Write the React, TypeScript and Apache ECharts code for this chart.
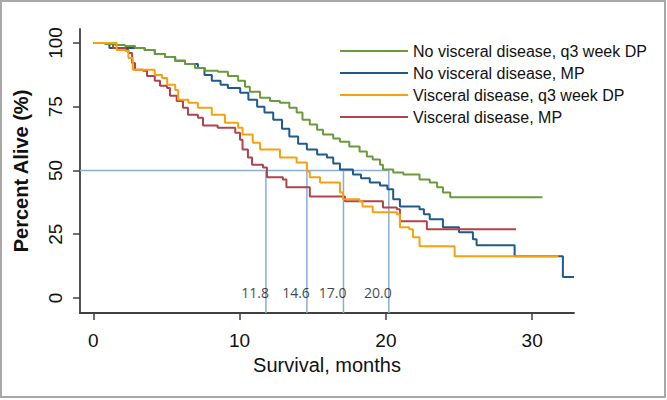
import React, { useEffect, useRef } from "react";
import * as echarts from "echarts";

// Kaplan-Meier curves: time (months) and percent alive
const greenName = "No visceral disease, q3 week DP";
const greenT = [0, 0.8, 1.48, 2.17, 2.85, 3.53, 4.22, 4.9, 5.58, 6.27, 6.95, 7.64, 8.52, 9.2, 9.9, 10.37, 10.7, 11.4, 12.08, 12.76, 13.4, 13.9, 14.3, 14.8, 15.3, 15.7, 16.4, 16.86, 17.5, 18.2, 18.7, 19.1, 19.6, 19.8, 20.5, 21.2, 22.3, 23.0, 23.5, 23.9, 24.4, 30.7];
const greenS = [100, 99.6, 99.2, 98.8, 98.0, 97.3, 95.7, 94.5, 93.0, 91.8, 90.2, 89.1, 88.7, 87.1, 85.2, 82.8, 80.9, 78.5, 77.3, 76.6, 74.6, 72.7, 69.9, 68.0, 66.0, 64.1, 62.5, 61.3, 59.4, 57.4, 55.5, 54.3, 52.3, 50.4, 49.2, 48.4, 46.5, 45.3, 43.4, 41.4, 39.5, 39.5];

const blueName = "No visceral disease, MP";
const blueT = [0, 1.1, 2.85, 3.5, 4.2, 4.9, 5.6, 6.27, 7.15, 7.6, 8.1, 8.7, 9.2, 10.04, 10.6, 11.2, 11.7, 12.3, 12.9, 13.4, 14.0, 14.6, 15.3, 15.97, 16.4, 16.86, 17.75, 18.3, 18.9, 19.6, 20.1, 20.5, 20.96, 22.3, 22.6, 23.0, 23.9, 25.0, 25.95, 26.2, 28.8, 32.1, 32.86];
const blueS = [100, 98.0, 98.0, 97.3, 95.7, 94.5, 93.0, 91.8, 90.2, 87.5, 85.2, 83.6, 82.4, 80.5, 77.7, 75.0, 72.7, 69.9, 66.4, 63.3, 60.5, 58.2, 56.3, 55.1, 52.7, 50.4, 48.4, 47.0, 45.3, 44.1, 42.6, 38.7, 35.9, 34.8, 32.8, 30.9, 27.7, 25.8, 23.0, 20.7, 16.4, 8.2, 8.2];

const orangeName = "Visceral disease, q3 week DP";
const orangeT = [0, 1.35, 1.6, 2.2, 2.4, 2.7, 4.0, 4.2, 4.7, 5.05, 5.6, 5.8, 6.5, 7.15, 8.1, 9.0, 9.9, 10.2, 10.9, 11.4, 12.76, 13.9, 14.6, 14.8, 15.5, 16.86, 17.07, 18.2, 18.4, 19.1, 20.75, 20.96, 21.6, 21.85, 22.3, 24.7, 31.8];
const orangeS = [100, 100, 97.3, 96.9, 94.1, 89.5, 89.5, 87.5, 86.3, 83.6, 81.6, 77.7, 76.6, 74.6, 71.9, 68.75, 66.8, 64.1, 60.9, 58.2, 55.1, 53.1, 49.6, 47.3, 45.3, 41.4, 38.7, 37.9, 35.9, 33.6, 32.8, 27.7, 27.0, 23.8, 20.3, 16.4, 16.4];

const redName = "Visceral disease, MP";
const redT = [0, 1.35, 2.2, 2.4, 2.65, 2.85, 3.4, 3.67, 4.2, 4.56, 5.04, 5.24, 5.7, 6.13, 6.47, 7.15, 7.5, 8.5, 9.7, 10.03, 10.2, 10.57, 10.85, 11.6, 11.87, 12.96, 13.2, 14.8, 17.2, 19.8, 20.75, 20.96, 22.8, 28.9];
const redS = [100, 98.0, 97.3, 96.1, 92.2, 89.5, 89.1, 87.1, 85.2, 83.2, 82.4, 79.3, 77.3, 74.6, 71.9, 70.7, 67.6, 66.8, 64.8, 62.1, 58.2, 55.1, 52.3, 51.2, 47.3, 46.5, 43.4, 39.8, 37.9, 35.5, 34.8, 30.1, 27.0, 27.0];

// Median survival markers
const medianX = [11.8, 14.6, 17.1, 20.2];
const medianText = ["11.8", "14.6", "17.0", "20.0"];
const medianLevel = 50;
const medianLabelY = 2;

const xTicks = [0, 10, 20, 30];
const yTicks = [0, 25, 50, 75, 100];
const xMin = -0.91;
const xMax = 32.86;
const yMin = -5.9;
const yMax = 105.5;

const pairs = (t: number[], s: number[]) => t.map((v, i) => [v, s[i]]);

export default function App() {
  const ref = useRef<HTMLDivElement>(null);
  useEffect(() => {
    if (!ref.current) return;
    const chart = echarts.init(ref.current, undefined, { renderer: "svg" });
    const font = "Liberation Sans, Arial, sans-serif";
    const medColor = "#8badd6";
    const kmSeries = (name: string, t: number[], s: number[], color: string, z: number) => ({
      name,
      type: "line",
      step: "end",
      data: pairs(t, s),
      showSymbol: false,
      symbol: "none",
      lineStyle: { color, width: 2 },
      itemStyle: { color },
      silent: true,
      z,
    });
    const medianLines: any[] = medianX.map((x) => ({
      type: "line",
      data: [
        [x, medianLevel],
        [x, yMin],
      ],
      symbol: "none",
      lineStyle: { color: medColor, width: 1.5 },
      silent: true,
      z: 1,
    }));
    medianLines.push({
      type: "line",
      data: [
        [xMin, medianLevel],
        [medianX[medianX.length - 1], medianLevel],
      ],
      symbol: "none",
      lineStyle: { color: medColor, width: 1.5 },
      silent: true,
      z: 1,
    });
    chart.setOption({
      animation: false,
      backgroundColor: "#ffffff",
      grid: { left: 80, top: 29, width: 494, height: 284, outerBoundsMode: "none", containLabel: false },
      legend: {
        data: [greenName, blueName, orangeName, redName],
        orient: "vertical",
        left: 335,
        top: 38,
        itemWidth: 68,
        itemHeight: 2,
        itemGap: 6,
        icon: "rect",
        textStyle: { fontFamily: font, fontSize: 16, color: "#111111" },
        selectedMode: false,
      },
      xAxis: {
        type: "value",
        min: xMin,
        max: xMax,
        name: "Survival, months",
        nameLocation: "middle",
        nameGap: 41,
        nameTextStyle: { fontFamily: font, fontSize: 20, color: "#111111" },
        axisLine: { show: true, onZero: false, lineStyle: { color: "#404040", width: 1.8 } },
        axisTick: { show: true, length: 7, customValues: xTicks, lineStyle: { color: "#404040", width: 1.5 } },
        axisLabel: { customValues: xTicks, fontFamily: font, fontSize: 19, color: "#111111", margin: 18 },
        splitLine: { show: false },
      },
      yAxis: {
        type: "value",
        min: yMin,
        max: yMax,
        name: "Percent Alive (%)",
        nameLocation: "middle",
        nameGap: 49,
        nameTextStyle: { fontFamily: font, fontSize: 20, fontWeight: "bold", color: "#111111" },
        axisLine: { show: true, onZero: false, lineStyle: { color: "#404040", width: 1.8 } },
        axisTick: { show: true, length: 7, customValues: yTicks, lineStyle: { color: "#404040", width: 1.5 } },
        axisLabel: { customValues: yTicks, rotate: 90, fontFamily: font, fontSize: 19, color: "#111111", margin: 15 },
        splitLine: { show: false },
      },
      graphic: [
        {
          type: "rect",
          shape: { x: 1, y: 1, width: 664, height: 396 },
          style: { fill: "none", stroke: "#a8a8a8", lineWidth: 2 },
          silent: true,
        },
      ],
      series: [
        ...medianLines,
        kmSeries(blueName, blueT, blueS, "#1f5a8c", 3),
        kmSeries(redName, redT, redS, "#b0434b", 4),
        kmSeries(greenName, greenT, greenS, "#6a9a3a", 5),
        kmSeries(orangeName, orangeT, orangeS, "#f5a20e", 6),
        {
          type: "scatter",
          data: medianX.map((x) => [x, medianLabelY]),
          symbolSize: 0,
          silent: true,
          z: 7,
          label: {
            show: true,
            position: "left",
            distance: -3,
            formatter: (p: any) => medianText[p.dataIndex],
            fontFamily: "Open Sans, sans-serif",
            fontSize: 14,
            color: "#111111",
          },
        },
      ],
    });
    return () => chart.dispose();
  }, []);
  return <div ref={ref} style={{ position: "fixed", left: 0, top: 0, width: 667, height: 400 }} />;
}
